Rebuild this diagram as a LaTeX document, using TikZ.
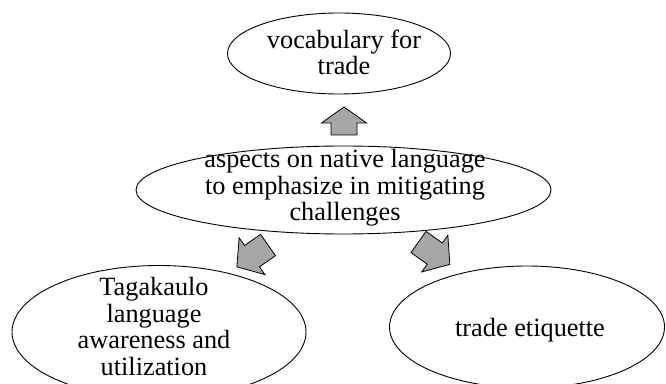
\documentclass[tikz,border=0pt]{standalone}
\usepackage{fontspec}
\setmainfont{Liberation Serif}
\definecolor{arrgray}{RGB}{166,166,166}
\tikzset{
  bubble/.style={draw=black, line width=0.9pt},
  txt/.style={font=\fontsize{26.3}{26.5}\selectfont, align=center, inner sep=0pt},
  arr/.style={draw=black, fill=arrgray, line width=0.8pt, line join=miter}
}
% #1 tail point, #2 direction angle, #3 length, #4 head length
\newcommand{\blockarrow}[4]{%
  \draw[arr, shift={#1}, rotate=#2]
    (0,-13) -- ({#3-#4},-13) -- ({#3-#4},-22.5) -- (#3,0)
    -- ({#3-#4},22.5) -- ({#3-#4},13) -- (0,13) -- cycle;}
\begin{document}
\begin{tikzpicture}[x=1pt,y=1pt]
\useasboundingbox (0,0) rectangle (666,383);
\clip (0,0) rectangle (666,383);
\fill[white] (0,0) rectangle (666,383);

% text nodes
\node[txt] (top) at (344,330.7) {vocabulary for\\trade};
\node[txt] (mid) at (345,195.1) {aspects on native language\\to emphasize in mitigating\\challenges};
\node[txt] (left) at (154,56.5) {Tagakaulo\\language\\awareness and\\utilization};
\node[txt] (right) at (530,52.6) {trade etiquette};

% ellipses
\draw[bubble] (339,329.5) ellipse [x radius=111.5, y radius=40.5];
\draw[bubble] (343.5,193) ellipse [x radius=207.5, y radius=44];
\draw[bubble] (159,51) ellipse [x radius=147, y radius=66.5];
\draw[bubble] (527,56) ellipse [x radius=137.5, y radius=61];

% block arrows (connectors)
\coordinate (tailup) at (344,248);
\coordinate (tailleft) at (268,138);
\coordinate (tailright) at (418.5,141);
\blockarrow{(tailup)}{90}{28}{16}
\blockarrow{(tailleft)}{215}{38}{18.5}
\blockarrow{(tailright)}{-35.5}{38.5}{18.5}
\end{tikzpicture}
\end{document}
